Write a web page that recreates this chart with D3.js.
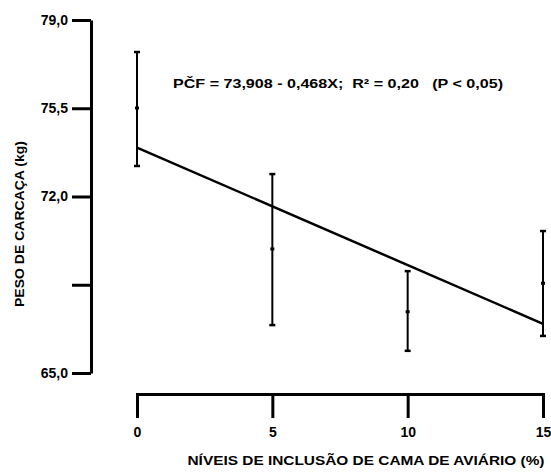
<!DOCTYPE html>
<html>
<head>
<meta charset="utf-8">
<script src="https://cdn.jsdelivr.net/npm/d3@7"></script>
<style>
  body { margin: 0; background: #fff; }
  text { font-family: "Liberation Sans", Arial, sans-serif; font-weight: bold; fill: #000; }
</style>
</head>
<body>
<script>
// datos
var niveis = [0, 5, 10, 15];
var medias = [75.51, 69.92, 67.43, 68.56];
var limSup = [77.73, 72.89, 69.04, 70.63];
var limInf = [73.21, 66.90, 65.88, 66.47];

// recta de regresion (extremos en x = 0 y x = 15)
var retaX = [0, 15];
var retaY = [73.94, 66.95];

var ticksY = [79.0, 75.5, 72.0, 68.5, 65.0];
var rotulosY = ["79,0", "75,5", "72,0", "", "65,0"];
var ticksX = [0, 5, 10, 15];
var rotulosX = ["0", "5", "10", "15"];

var ancho = 551, alto = 474;

var svg = d3.select("body")
  .append("svg")
  .attr("width", ancho)
  .attr("height", alto);

var escalaX = d3.scaleLinear().domain([0, 15]).range([137, 543]);
var escalaY = d3.scaleLinear().domain([65, 79]).range([373, 20]);

// eje y
var ejeY = svg.append("g")
  .attr("transform", "translate(91,0)")
  .call(d3.axisLeft(escalaY)
    .tickValues(ticksY)
    .tickFormat(function(d, i){ return rotulosY[i]; })
    .tickSize(19)
    .tickSizeOuter(0)
    .tickPadding(4));
ejeY.select(".domain").attr("stroke", "#000").attr("stroke-width", 3);
ejeY.selectAll(".tick line").attr("stroke", "#000").attr("stroke-width", 3);
ejeY.selectAll(".tick text").attr("font-size", 14).attr("font-family", null).attr("fill", "#000");

// eje x (separado, con extremos hacia abajo)
var ejeX = svg.append("g")
  .attr("transform", "translate(0,394)")
  .call(d3.axisBottom(escalaX)
    .tickValues(ticksX)
    .tickFormat(function(d, i){ return rotulosX[i]; })
    .tickSize(24)
    .tickSizeOuter(24)
    .tickPadding(9));
ejeX.select(".domain").attr("stroke", "#000").attr("stroke-width", 3).attr("fill", "none");
ejeX.selectAll(".tick line").attr("stroke", "#000").attr("stroke-width", 3);
ejeX.selectAll(".tick text").attr("font-size", 14).attr("font-family", null).attr("fill", "#000");

// barras de error
var barras = svg.selectAll(".barra")
  .data(niveis)
  .enter()
  .append("g")
  .attr("class", "barra");

barras.append("line")
  .attr("x1", function(d){ return escalaX(d); })
  .attr("x2", function(d){ return escalaX(d); })
  .attr("y1", function(d, i){ return escalaY(limSup[i]); })
  .attr("y2", function(d, i){ return escalaY(limInf[i]); })
  .attr("stroke", "#000")
  .attr("stroke-width", 2);

[limSup, limInf].forEach(function(lim){
  barras.append("line")
    .attr("x1", function(d){ return escalaX(d) - 3; })
    .attr("x2", function(d){ return escalaX(d) + 3; })
    .attr("y1", function(d, i){ return escalaY(lim[i]); })
    .attr("y2", function(d, i){ return escalaY(lim[i]); })
    .attr("stroke", "#000")
    .attr("stroke-width", 2.5);
});

// media
barras.append("line")
  .attr("x1", function(d){ return escalaX(d) - 2; })
  .attr("x2", function(d){ return escalaX(d) + 2; })
  .attr("y1", function(d, i){ return escalaY(medias[i]); })
  .attr("y2", function(d, i){ return escalaY(medias[i]); })
  .attr("stroke", "#000")
  .attr("stroke-width", 3);

// recta
svg.append("line")
  .attr("x1", escalaX(retaX[0]))
  .attr("x2", escalaX(retaX[1]))
  .attr("y1", escalaY(retaY[0]))
  .attr("y2", escalaY(retaY[1]))
  .attr("stroke", "#000")
  .attr("stroke-width", 2.5);

// ecuacion
svg.append("text")
  .attr("x", 173)
  .attr("y", 88)
  .attr("font-size", 12)
  .attr("textLength", 330)
  .attr("lengthAdjust", "spacingAndGlyphs")
  .attr("xml:space", "preserve")
  .text("PČF = 73,908 - 0,468X;  R² = 0,20   (P < 0,05)");

// titulos de ejes
svg.append("text")
  .attr("transform", "translate(24,224) rotate(-90)")
  .attr("text-anchor", "middle")
  .attr("font-size", 12)
  .attr("textLength", 166)
  .attr("lengthAdjust", "spacingAndGlyphs")
  .text("PESO DE CARCAÇA (kg)");

svg.append("text")
  .attr("x", 366)
  .attr("y", 465)
  .attr("text-anchor", "middle")
  .attr("font-size", 12)
  .attr("textLength", 357)
  .attr("lengthAdjust", "spacingAndGlyphs")
  .text("NÍVEIS DE INCLUSÃO DE CAMA DE AVIÁRIO (%)");
</script>
</body>
</html>
